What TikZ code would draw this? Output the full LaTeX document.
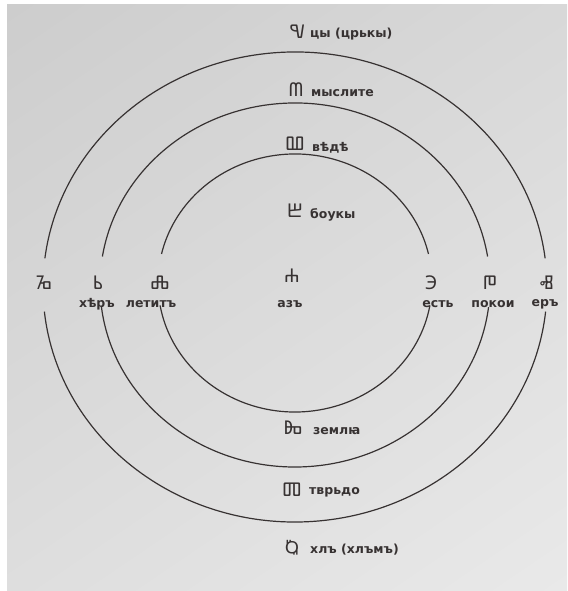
\documentclass[tikz,border=0pt]{standalone}
\usepackage{fontspec}
\usetikzlibrary{shadings}
\setmainfont{DejaVu Sans}
\newfontfamily\glagfont[Script=Glagolitic]{Noto Sans Glagolitic}
\definecolor{paperA}{RGB}{205,205,205}
\definecolor{paperB}{RGB}{216,216,216}
\definecolor{paperC}{RGB}{222,222,222}
\definecolor{paperD}{RGB}{233,233,233}
\definecolor{ink}{RGB}{55,50,50}

\begin{document}
\begin{tikzpicture}[x=1pt, y=1pt,
  ring/.style={ink, line width=1.2pt},
  letter/.style={text=ink, font=\glagfont\fontsize{19}{19}\selectfont, inner sep=0pt},
  word/.style={text=ink, font=\bfseries\fontsize{12.5}{13}\selectfont, inner sep=0pt}]
  \fill[white] (0,0) rectangle (567,591);
  \shade[upper left=paperA, upper right=paperB, lower left=paperC, lower right=paperD]
    (7,0) rectangle (567,586);
  \useasboundingbox (0,0) rectangle (567,591);
  % three rings, each open on the left and on the right
  \foreach \cy/\rx/\ry/\a/\b in {304/252/235/7/6, 306/195/182/9/7, 308/137/129/13/10} {
    \draw[ring] (295,\cy) ++({\rx*cos(\a)},{\ry*sin(\a)})
      arc[start angle=\a, end angle=180-\a, x radius=\rx, y radius=\ry];
    \draw[ring] (295,\cy) ++({-\rx*cos(\b)},{-\ry*sin(\b)})
      arc[start angle=180+\b, end angle=360-\b, x radius=\rx, y radius=\ry];
  }
  % upper column
  \node[letter] (tsi) at (297,559) {Ⱌ};
  \node[word, anchor=west] (tsiW) at (310,557) {цы (црькы)};
  \node[letter] (myslite) at (296,501) {Ⰿ};
  \node[word, anchor=west] (mysliteW) at (311,498) {мыслите};
  \node[letter] (vede) at (295,447) {Ⰲ};
  \node[word, anchor=west] (vedeW) at (312,443) {вѣдѣ};
  \node[letter] (buky) at (295,380) {Ⰱ};
  \node[word, anchor=west] (bukyW) at (310,376) {боукы};
  % centre
  \node[letter] (azu) at (292,315) {Ⰰ};
  \node[word] (azuW) at (290,287) {азъ};
  % left row
  \node[letter] (heru) at (44,308) {Ⱈ};
  \node[letter] (ritsi) at (98,308) {Ⱃ};
  \node[word] (ritsiW) at (97,287) {хѣръ};
  \node[letter] (ljudije) at (160,308) {Ⰾ};
  \node[word] (ljudijeW) at (151,287) {летитъ};
  % right row
  \node[letter] (yestu) at (431,308) {Ⰵ};
  \node[word] (yestuW) at (438,287) {есть};
  \node[letter] (pokoji) at (490,308) {Ⱂ};
  \node[word] (pokojiW) at (493,287) {покои};
  \node[letter] (yeru) at (547,308) {Ⱏ};
  \node[word] (yeruW) at (545,287) {еръ};
  % lower column
  \node[letter] (zemlja) at (293,163) {Ⰸ};
  \node[word, anchor=west] (zemljaW) at (313,160) {землꙗ};
  \node[letter] (tvrido) at (292,101) {Ⱅ};
  \node[word, anchor=west] (tvridoW) at (309,99) {тврьдо};
  \node[letter] (spideryha) at (292,43) {Ⱒ};
  \node[word, anchor=west] (spideryhaW) at (310,41) {хлъ (хлъмъ)};
\end{tikzpicture}
\end{document}
